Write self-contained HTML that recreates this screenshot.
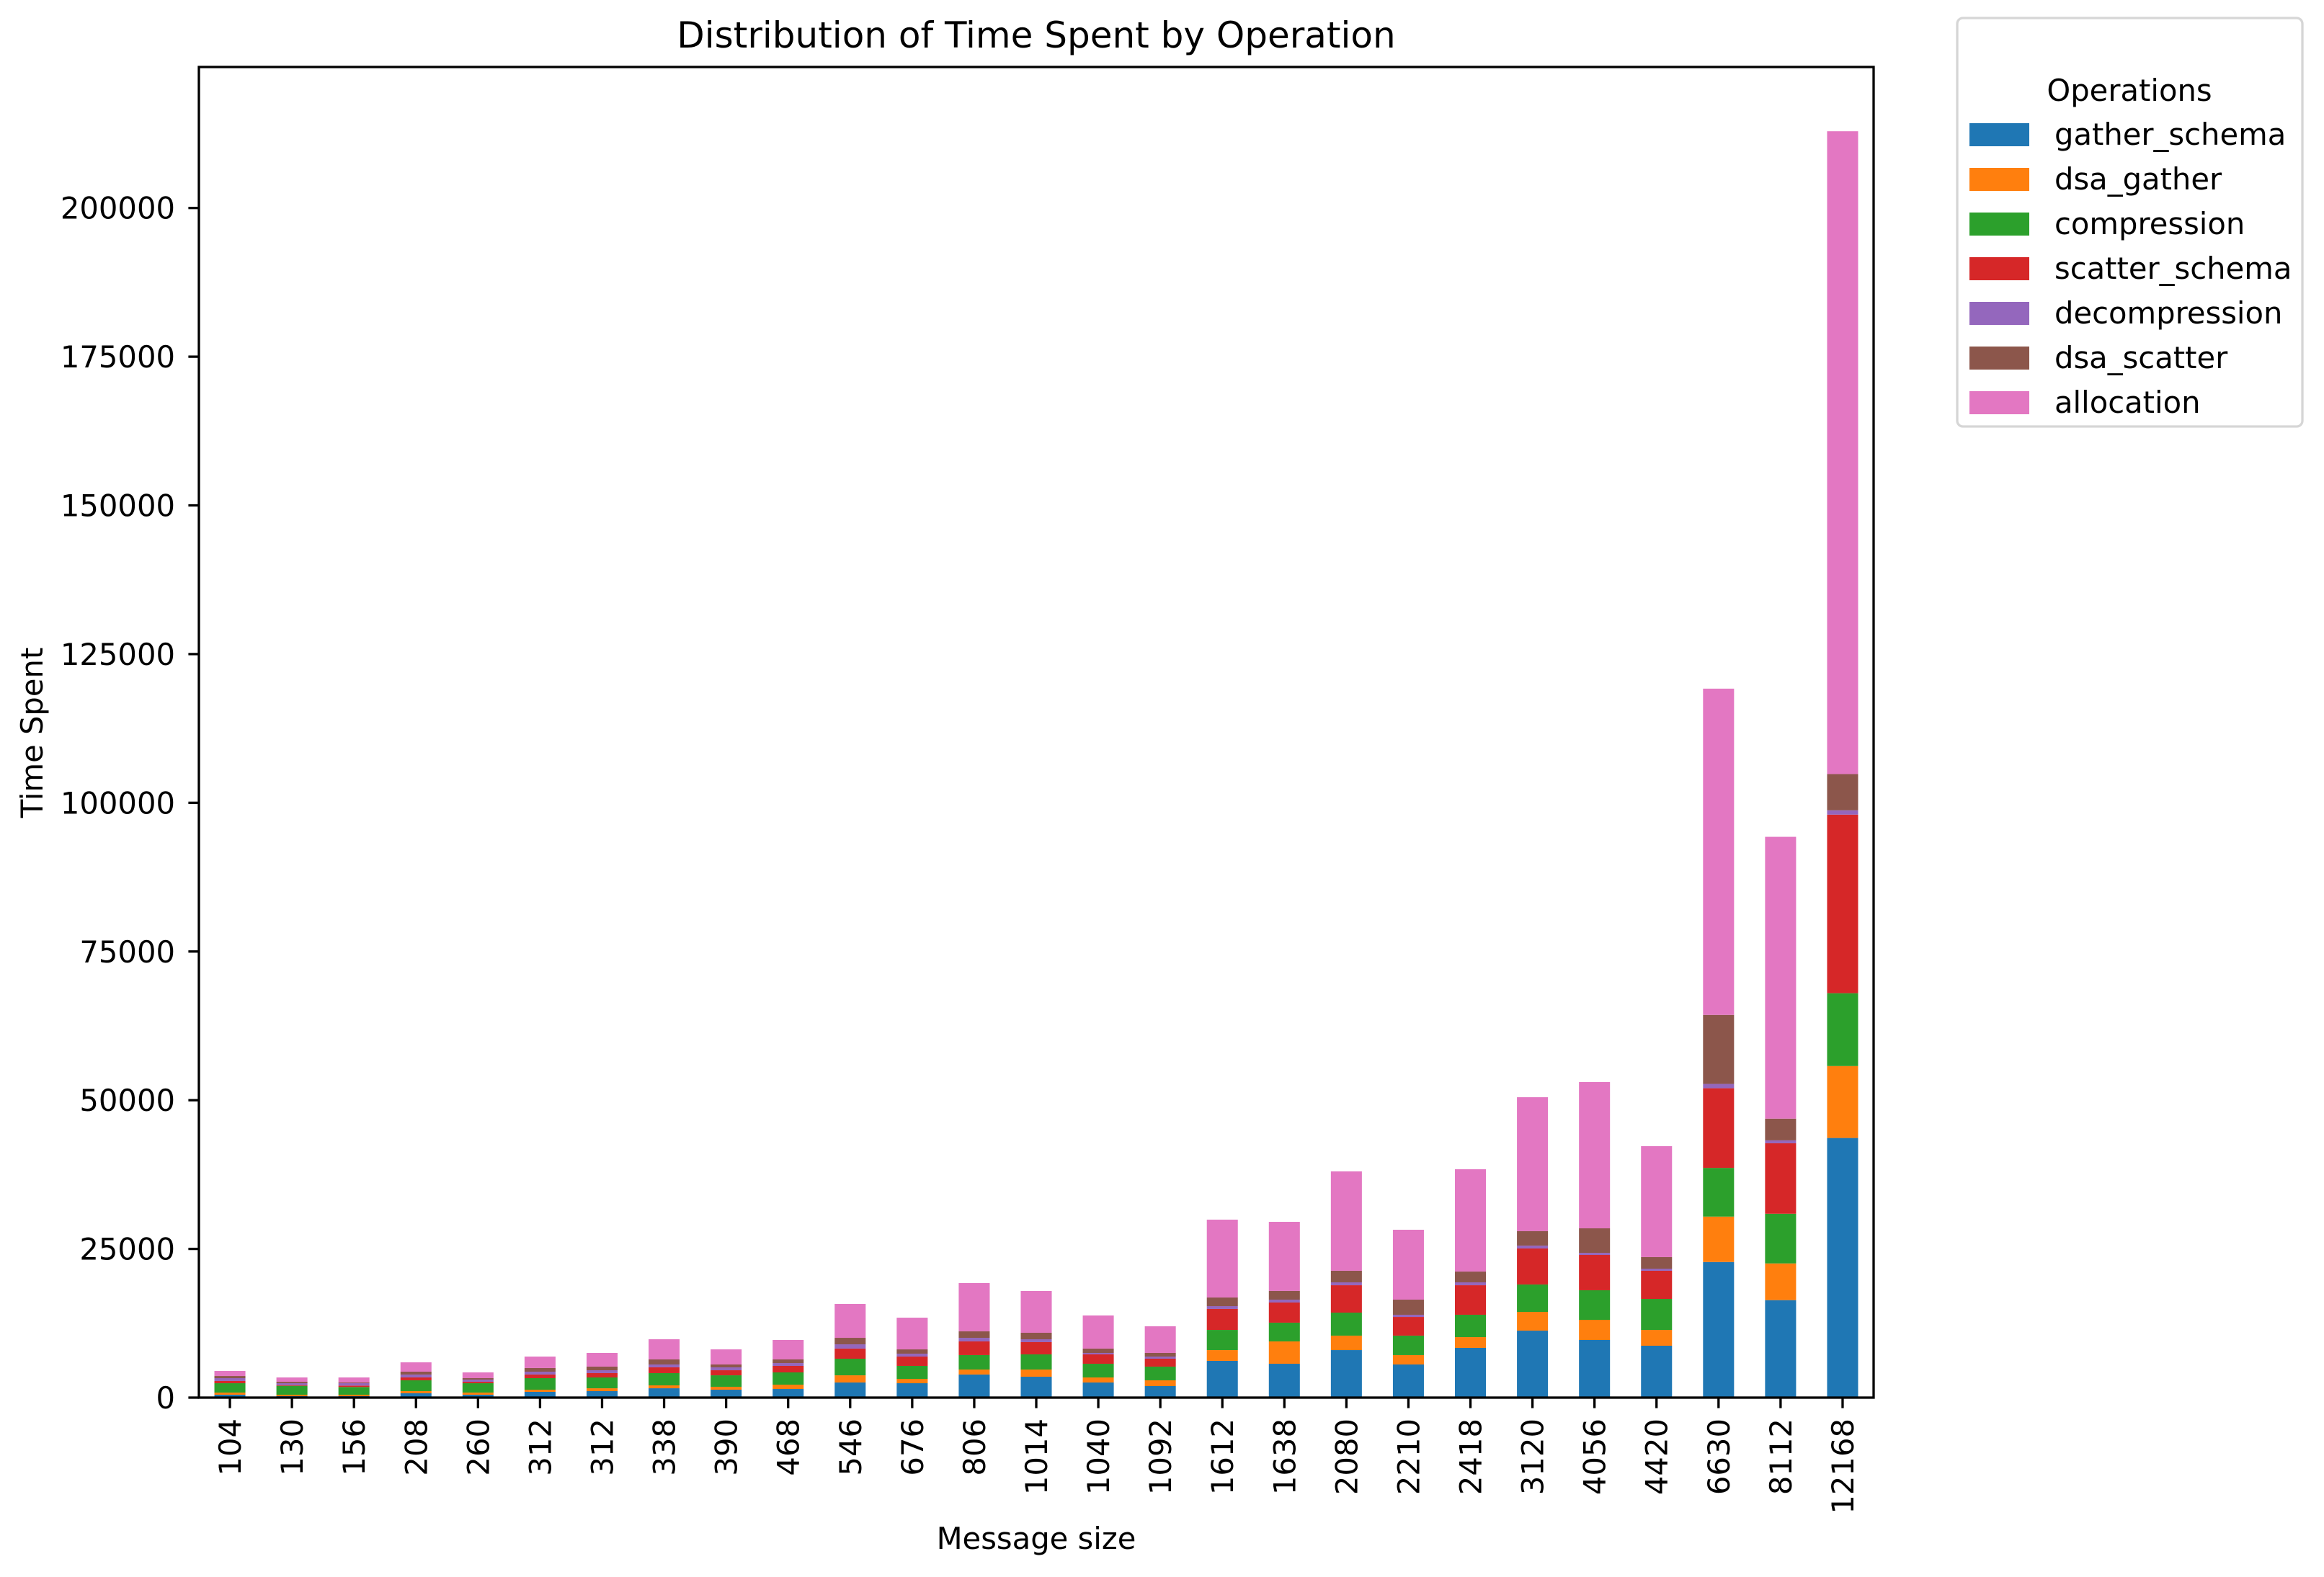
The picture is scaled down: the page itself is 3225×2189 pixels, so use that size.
<!DOCTYPE html>
<html><head><meta charset="utf-8"><style>
html,body{margin:0;padding:0;background:#fff;}
svg{display:block;font-family:"DejaVu Sans","Liberation Sans",sans-serif;}
</style></head><body>
<svg id="chart" width="3225" height="2189" viewBox="0 0 3225 2189" xmlns="http://www.w3.org/2000/svg">
<rect x="0" y="0" width="3225" height="2189" fill="#fff"/>
<text x="1438" y="66" font-size="50" text-anchor="middle">Distribution of Time Spent by Operation</text>
<g id="bars"></g>
<g id="yaxis"></g>
<g id="xaxis"></g>
<rect x="276" y="93" width="2324" height="1847" fill="none" stroke="#000" stroke-width="3.3"/>
<text x="0" y="0" font-size="41.7" text-anchor="middle" transform="translate(59,1017) rotate(-90)">Time Spent</text>
<text x="1438" y="2150" font-size="41.7" text-anchor="middle">Message size</text>
<g id="legend"></g>
</svg>
<script>
const categories = ["104","130","156","208","260","312","312","338","390","468","546","676","806","1014","1040","1092","1612","1638","2080","2210","2418","3120","4056","4420","6630","8112","12168"];
const seriesNames = ["gather_schema","dsa_gather","compression","scatter_schema","decompression","dsa_scatter","allocation"];
const gatherSchema = [485,240,240,730,485,970,1090,1570,1330,1450,2540,2420,3880,3510,2540,1940,6180,5690,7990,5570,8360,11260,9690,8720,22800,16390,43650];
const dsaGather = [365,245,245,360,365,360,480,490,490,730,1210,730,840,1210,850,970,1810,3760,2430,1580,1810,3150,3390,2660,7630,6170,12090];
const compression = [1570,1495,1295,1820,1570,1940,1820,2060,1930,2060,2790,2180,2430,2550,2300,2300,3390,3150,3870,3270,3760,4610,4970,5210,8190,8350,12250];
const scatterSchema = [370,120,240,480,240,610,730,970,850,1090,1700,1570,2300,2060,1580,1330,3520,3390,4600,3140,4960,6050,5930,4730,13390,11850,30020];
const decompression = [480,320,400,490,370,480,480,480,490,480,720,490,600,480,240,360,480,480,490,370,490,490,360,360,730,490,730];
const dsaScatter = [360,240,120,480,240,610,610,850,480,610,1090,720,1090,1090,730,610,1450,1460,1940,2540,1810,2420,4120,1940,11600,3650,6090];
const allocation = [850,730,850,1570,970,1930,2300,3390,2540,3270,5700,5330,8120,7030,5570,4480,13090,11620,16710,11750,17200,22520,24590,18650,54850,47380,108070];
const yTicks = [0,25000,50000,75000,100000,125000,150000,175000,200000];
const colors = ["#1f77b4","#ff7f0e","#2ca02c","#d62728","#9467bd","#8c564b","#e377c2"];
const series = [gatherSchema,dsaGather,compression,scatterSchema,decompression,dsaScatter,allocation];

const NS = "http://www.w3.org/2000/svg";
const L = 276, R = 2600, T = 93, B = 1940;
const yMax = 223700;
const step = (R - L) / categories.length;
function xPos(i){ return L + step * (i + 0.5); }
function yPos(v){ return B - v / yMax * (B - T); }
function mk(tag, attrs){ const e = document.createElementNS(NS, tag); for (const k in attrs) e.setAttribute(k, attrs[k]); return e; }

const bars = document.getElementById('bars');
categories.forEach((c, i) => {
  let cum = 0;
  series.forEach((s, j) => {
    const y0 = yPos(cum), y1 = yPos(cum + s[i]);
    const r = mk('rect', {x: xPos(i) - step/4, y: y1, width: step/2, height: Math.max(0, y0 - y1), fill: colors[j]});
    
    
    bars.appendChild(r);
    cum += s[i];
  });
});

const ya = document.getElementById('yaxis');
yTicks.forEach(v => {
  const y = yPos(v);
  const t = mk('line', {x1: L - 14.6, x2: L, y1: y, y2: y, stroke: '#000', 'stroke-width': 3.3});
  
  
  ya.appendChild(t);
  const tx = mk('text', {x: L - 33, y: y + 15, 'font-size': 41.7, 'text-anchor': 'end'});
  
  
  tx.textContent = v;
  ya.appendChild(tx);
});

const xa = document.getElementById('xaxis');
categories.forEach((c, i) => {
  const x = xPos(i);
  const t = mk('line', {x1: x, x2: x, y1: B, y2: B + 14.6, stroke: '#000', 'stroke-width': 3.3});
  
  
  xa.appendChild(t);
  const tx = mk('text', {x: 0, y: 0, 'font-size': 41.7, 'text-anchor': 'end', transform: 'translate(' + (x + 15) + ',' + (B + 29) + ') rotate(-90)'});
  
  
  tx.textContent = c;
  xa.appendChild(tx);
});

const lg = document.getElementById('legend');
const box = mk('rect', {x: 2716, y: 25, width: 479, height: 567, rx: 8, fill: '#fff', stroke: '#d6d6d6', 'stroke-width': 3.3});


lg.appendChild(box);
const lt = mk('text', {x: 2955, y: 140, 'font-size': 41.7, 'text-anchor': 'middle'});


lt.textContent = 'Operations';
lg.appendChild(lt);
seriesNames.forEach((n, j) => {
  const cy = 187 + j * 62;
  const sw = mk('rect', {x: 2733, y: cy - 16, width: 83, height: 32, fill: colors[j]});
  
  
  lg.appendChild(sw);
  const tx = mk('text', {x: 2851, y: cy + 14, 'font-size': 41.7});
  
  
  tx.textContent = n;
  lg.appendChild(tx);
});
</script>
</body></html>
